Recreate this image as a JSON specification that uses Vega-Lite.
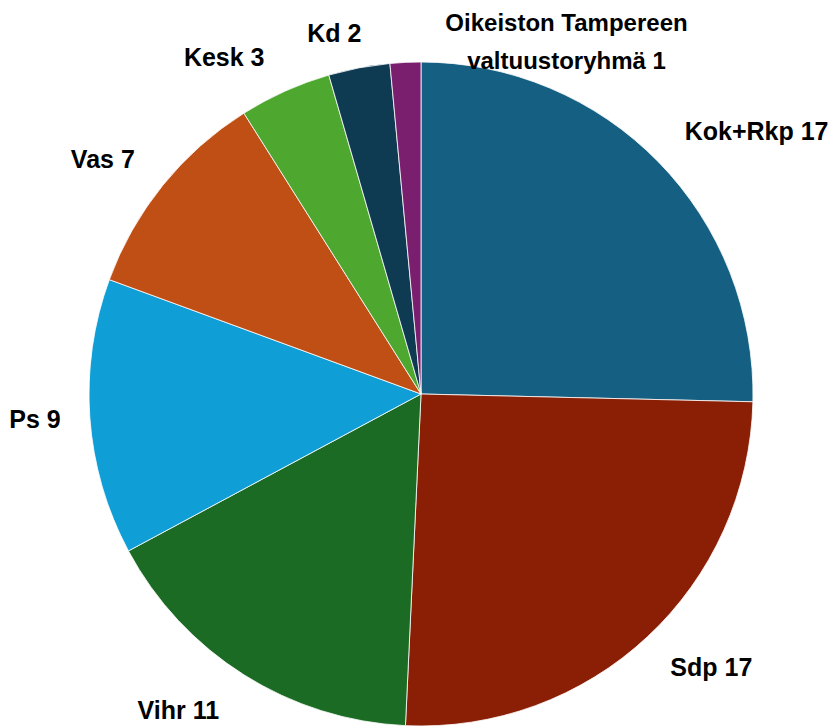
{
  "$schema": "https://vega.github.io/schema/vega-lite/v6.json",
  "autosize": {"type": "none"},
  "padding": 0,
  "width": 842,
  "height": 788,
  "background": "white",
  "view": {"stroke": null},
  "data": {
    "values": [
      {"idx": 1, "party": "Kok+Rkp", "seats": 17, "label": "Kok+Rkp 17"},
      {"idx": 2, "party": "Sdp", "seats": 17, "label": "Sdp 17"},
      {"idx": 3, "party": "Vihr", "seats": 11, "label": "Vihr 11"},
      {"idx": 4, "party": "Ps", "seats": 9, "label": "Ps 9"},
      {"idx": 5, "party": "Vas", "seats": 7, "label": "Vas 7"},
      {"idx": 6, "party": "Kesk", "seats": 3, "label": "Kesk 3"},
      {"idx": 7, "party": "Kd", "seats": 2, "label": "Kd 2"},
      {"idx": 8, "party": "Oikeiston Tampereen valtuustoryhmä", "seats": 1, "label": "Oikeiston Tampereen\nvaltuustoryhmä 1"}
    ]
  },
  "encoding": {
    "theta": {"field": "seats", "type": "quantitative", "stack": true},
    "order": {"field": "idx", "type": "quantitative", "sort": "ascending"}
  },
  "layer": [
    {
      "mark": {"type": "arc", "radius": 332, "stroke": "white", "strokeWidth": 0.8},
      "encoding": {
        "color": {
          "field": "party",
          "type": "nominal",
          "legend": null,
          "scale": {
            "domain": ["Kok+Rkp", "Sdp", "Vihr", "Ps", "Vas", "Kesk", "Kd", "Oikeiston Tampereen valtuustoryhmä"],
            "range": ["#156082", "#8A1F05", "#1B6B24", "#0F9ED5", "#C04F15", "#4EA72E", "#0E3A52", "#7A1F6E"]
          }
        }
      }
    },
    {
      "mark": {"type": "text", "radius": 395, "dx": 53, "dy": 14, "font": "Liberation Sans", "fontWeight": "bold", "fontSize": 25, "align": "center", "baseline": "middle", "color": "#000000"},
      "encoding": {"text": {"condition": {"test": "datum.party === 'Kok+Rkp'", "field": "label"}, "value": ""}}
    },
    {
      "mark": {"type": "text", "radius": 395, "dx": 21, "dy": -15, "font": "Liberation Sans", "fontWeight": "bold", "fontSize": 25, "align": "center", "baseline": "middle", "color": "#000000"},
      "encoding": {"text": {"condition": {"test": "datum.party === 'Sdp'", "field": "label"}, "value": ""}}
    },
    {
      "mark": {"type": "text", "radius": 395, "dx": -32, "dy": -17, "font": "Liberation Sans", "fontWeight": "bold", "fontSize": 25, "align": "center", "baseline": "middle", "color": "#000000"},
      "encoding": {"text": {"condition": {"test": "datum.party === 'Vihr'", "field": "label"}, "value": ""}}
    },
    {
      "mark": {"type": "text", "radius": 395, "dx": 8, "dy": -2, "font": "Liberation Sans", "fontWeight": "bold", "fontSize": 25, "align": "center", "baseline": "middle", "color": "#000000"},
      "encoding": {"text": {"condition": {"test": "datum.party === 'Ps'", "field": "label"}, "value": ""}}
    },
    {
      "mark": {"type": "text", "radius": 395, "dx": -11, "dy": 14, "font": "Liberation Sans", "fontWeight": "bold", "fontSize": 25, "align": "center", "baseline": "middle", "color": "#000000"},
      "encoding": {"text": {"condition": {"test": "datum.party === 'Vas'", "field": "label"}, "value": ""}}
    },
    {
      "mark": {"type": "text", "radius": 395, "dx": -35, "dy": 24, "font": "Liberation Sans", "fontWeight": "bold", "fontSize": 25, "align": "center", "baseline": "middle", "color": "#000000"},
      "encoding": {"text": {"condition": {"test": "datum.party === 'Kesk'", "field": "label"}, "value": ""}}
    },
    {
      "mark": {"type": "text", "radius": 395, "dx": -13, "dy": 28, "font": "Liberation Sans", "fontWeight": "bold", "fontSize": 25, "align": "center", "baseline": "middle", "color": "#000000"},
      "encoding": {"text": {"condition": {"test": "datum.party === 'Kd'", "field": "label"}, "value": ""}}
    },
    {
      "mark": {"type": "text", "radius": 395, "dx": 164, "dy": 25, "lineBreak": "\n", "lineHeight": 38, "font": "Liberation Sans", "fontWeight": "bold", "fontSize": 24, "align": "center", "baseline": "middle", "color": "#000000"},
      "encoding": {"text": {"condition": {"test": "datum.idx === 8", "field": "label"}, "value": ""}}
    }
  ]
}
